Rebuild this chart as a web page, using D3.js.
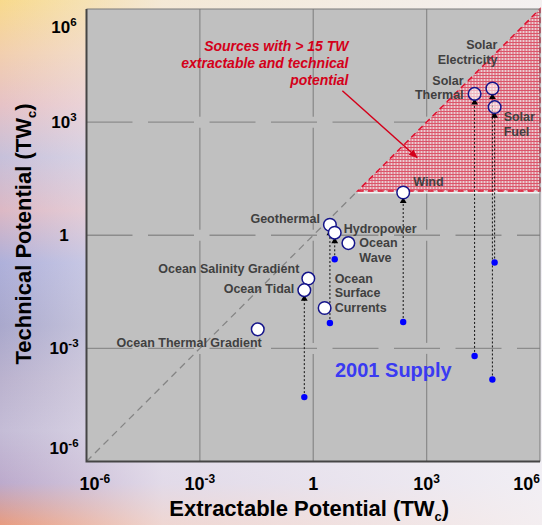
<!doctype html>
<html lang="en">
<head>
<meta charset="utf-8">
<title>Extractable vs Technical Potential</title>
<script src="https://cdnjs.cloudflare.com/ajax/libs/d3/7.8.5/d3.min.js"></script>
<style>
	html, body { margin: 0; padding: 0; overflow: hidden; }
	svg { display: block; font-family: "Liberation Sans", Arial, sans-serif; }
</style>
</head>
<body>
<div id="viz"></div>
<script>

// energy sources, values in TW
var sources = ["Solar Electricity", "Solar Thermal", "Solar Fuel", "Wind", "Geothermal", "Hydropower",
	"Ocean Wave", "Ocean Salinity Gradient", "Ocean Tidal", "Ocean Surface Currents", "Ocean Thermal Gradient"];
var extractable = [5.5e4, 1.86e4, 6.3e4, 240, 2.76, 3.7, 8.5, 0.74, 0.58, 2.0, 0.034];
var technical = [7.8e3, 5.6e3, 2.5e3, 13.6, 1.9, 1.17, 0.62, 0.071, 0.035, 0.0118, 0.0032];
// 2001 supply (null = not shown)
var supply = [1.5e-4, 6.3e-4, 0.19, 5e-3, 4.7e-3, 0.23, null, null, 5.1e-5, null, null];

var tickValues = [1e-6, 1e-3, 1, 1e3, 1e6];
var tickBase = ["10", "10", "1", "10", "10"];
var tickExp = ["-6", "-3", "", "3", "6"];
var threshold = 15; // TW

// label layout: lines, offset from the circle, anchor
var labelLayout = {
	"Solar Electricity": {lines: ["Solar", "Electricity"], dx: 5, dy: -39, anchor: "end"},
	"Solar Thermal": {lines: ["Solar", "Thermal"], dx: -11, dy: -9, anchor: "end"},
	"Solar Fuel": {lines: ["Solar", "Fuel"], dx: 9, dy: 14, anchor: "start"},
	"Wind": {lines: ["Wind"], dx: 10, dy: -7, anchor: "start"},
	"Geothermal": {lines: ["Geothermal"], dx: -10, dy: -2, anchor: "end"},
	"Hydropower": {lines: ["Hydropower"], dx: 9, dy: 0, anchor: "start"},
	"Ocean Wave": {lines: ["Ocean", "Wave"], dx: 11, dy: 4, anchor: "start"},
	"Ocean Salinity Gradient": {lines: ["Ocean Salinity Gradient"], dx: -9, dy: -6, anchor: "end"},
	"Ocean Tidal": {lines: ["Ocean Tidal"], dx: -10, dy: 3, anchor: "end"},
	"Ocean Surface Currents": {lines: ["Ocean", "Surface", "Currents"], dx: 10, dy: -25, anchor: "start"},
	"Ocean Thermal Gradient": {lines: ["Ocean Thermal Gradient"], dx: 4, dy: 18, anchor: "end"}
};

var w = 542,
	h = 525;
var margin = {top: 9, right: 2, bottom: 63.5, left: 86.5};
var width = w - margin.left - margin.right,
	height = h - margin.top - margin.bottom;

var xScale = d3.scaleLog().domain([1e-6, 1e6]).range([0, width]);
var yScale = d3.scaleLog().domain([1e-6, 1e6]).range([height, 0]);

var svg = d3.select("#viz")
	.append("svg")
	.attr("width", w)
	.attr("height", h);

var defs = svg.append("defs");

// page background
var bgGrad = defs.append("linearGradient")
	.attr("id", "bgGrad")
	.attr("x1", 0).attr("y1", 0).attr("x2", 0).attr("y2", 1);
[[0, "#f8da8c"], [0.1, "#f2cfae"], [0.2, "#e6c2c6"], [0.3, "#c6c0da"], [0.4, "#dcb8c4"],
	[0.5, "#aeb0da"], [0.62, "#a9a8cc"], [0.72, "#bab2ce"], [0.82, "#c4bcd6"], [0.92, "#bcaacc"], [1, "#e89c80"]]
	.forEach(function(s) {
		bgGrad.append("stop").attr("offset", s[0]).attr("stop-color", s[1]);
	});

var fadeGrad = defs.append("linearGradient")
	.attr("id", "fadeGrad")
	.attr("x1", 0).attr("y1", 0).attr("x2", 1).attr("y2", 0);
fadeGrad.append("stop").attr("offset", 0).attr("stop-color", "#f2eff5").attr("stop-opacity", 0);
fadeGrad.append("stop").attr("offset", 0.3).attr("stop-color", "#f2eff5").attr("stop-opacity", 0.7);
fadeGrad.append("stop").attr("offset", 1).attr("stop-color", "#f4f2f6").attr("stop-opacity", 0.95);

svg.append("rect").attr("width", w).attr("height", h).attr("fill", "url(#bgGrad)");
svg.append("rect").attr("width", w).attr("height", h).attr("fill", "url(#fadeGrad)");

// hatch used for the > 15 TW region
var hatch = defs.append("pattern")
	.attr("id", "hatch")
	.attr("patternUnits", "userSpaceOnUse")
	.attr("width", 3)
	.attr("height", 3);
hatch.append("rect").attr("width", 3).attr("height", 3).attr("fill", "#f6d2d8");
hatch.append("path").attr("d", "M0,0.5H3M0.5,0V3").attr("stroke", "#e23a55").attr("stroke-width", 1);

var g = svg.append("g")
	.attr("transform", "translate(" + margin.left + "," + margin.top + ")");

g.append("rect")
	.attr("width", width)
	.attr("height", height)
	.attr("fill", "#c0c0c0");

var inner = tickValues.slice(1, -1);

// horizontal grid (dashed)
g.selectAll("line.hgrid")
	.data(inner)
	.enter()
	.append("line")
	.attr("class", "hgrid")
	.attr("x1", 0)
	.attr("x2", width)
	.attr("y1", d => yScale(d))
	.attr("y2", d => yScale(d))
	.attr("stroke", "#8c8c8c")
	.attr("stroke-width", 1.3)
	.attr("stroke-dasharray", "46,15.5");

// vertical grid, broken where it crosses the horizontal lines
var gap = 5.5;
var vsegs = [];
inner.forEach(function(xv) {
	for (var i = 0; i < tickValues.length - 1; i++) {
		vsegs.push({
			x: xv,
			y0: yScale(tickValues[i]) - (i > 0 ? gap : 0),
			y1: yScale(tickValues[i + 1]) + (i + 1 < tickValues.length - 1 ? gap : 0)
		});
	}
});
g.selectAll("line.vgrid")
	.data(vsegs)
	.enter()
	.append("line")
	.attr("class", "vgrid")
	.attr("x1", d => xScale(d.x))
	.attr("x2", d => xScale(d.x))
	.attr("y1", d => d.y0)
	.attr("y2", d => d.y1)
	.attr("stroke", "#8c8c8c")
	.attr("stroke-width", 1.3);

// 1:1 diagonal up to the threshold
g.append("line")
	.attr("x1", xScale(1e-6))
	.attr("y1", yScale(1e-6))
	.attr("x2", xScale(threshold))
	.attr("y2", yScale(threshold))
	.attr("stroke", "#858585")
	.attr("stroke-width", 1.3)
	.attr("stroke-dasharray", "7,5");

// > 15 TW region
var region = [[threshold, threshold], [1e6, threshold], [1e6, 1e6]];
var regionPath = d3.line().x(d => xScale(d[0])).y(d => yScale(d[1]));

g.append("path")
	.attr("d", regionPath(region) + "Z")
	.attr("fill", "url(#hatch)")
	.attr("fill-opacity", 0.8);

g.append("line")
	.attr("x1", xScale(threshold))
	.attr("x2", width)
	.attr("y1", yScale(threshold) + 1.5)
	.attr("y2", yScale(threshold) + 1.5)
	.attr("stroke", "#f4f4f4")
	.attr("stroke-width", 2);

g.append("path")
	.attr("d", regionPath(region) + "Z")
	.attr("fill", "none")
	.attr("stroke", "#e0102e")
	.attr("stroke-width", 1.5)
	.attr("stroke-dasharray", "6,4");

// points
var data = sources.map(function(s, i) {
	return {name: s, x: extractable[i], y: technical[i], supply: supply[i]};
});
var withSupply = data.filter(d => d.supply !== null);
var r = 6.3;

g.selectAll("line.drop")
	.data(withSupply)
	.enter()
	.append("line")
	.attr("class", "drop")
	.attr("x1", d => xScale(d.x))
	.attr("x2", d => xScale(d.x))
	.attr("y1", d => yScale(d.supply))
	.attr("y2", d => yScale(d.y) + r + 2)
	.attr("stroke", "#111")
	.attr("stroke-width", 1)
	.attr("stroke-dasharray", "2,2");

g.selectAll("path.tri")
	.data(withSupply)
	.enter()
	.append("path")
	.attr("class", "tri")
	.attr("d", d3.symbol(d3.symbolTriangle).size(20))
	.attr("transform", d => "translate(" + xScale(d.x) + "," + (yScale(d.y) + r + 2.3) + ")")
	.attr("fill", "#000");

g.selectAll("circle.supply")
	.data(withSupply)
	.enter()
	.append("circle")
	.attr("class", "supply")
	.attr("cx", d => xScale(d.x))
	.attr("cy", d => yScale(d.supply))
	.attr("r", 3.2)
	.attr("fill", "#0000ff");

var inRegion = d => d.x > threshold && d.y > threshold;

g.selectAll("circle.pt")
	.data(data)
	.enter()
	.append("circle")
	.attr("class", "pt")
	.attr("cx", d => xScale(d.x))
	.attr("cy", d => yScale(d.y))
	.attr("r", r)
	.attr("fill", "#fff")
	.attr("fill-opacity", d => inRegion(d) ? 0.55 : 1)
	.attr("stroke", "#14148a")
	.attr("stroke-width", 1.5);

// frame
g.append("path")
	.attr("d", "M0,0H" + width + "V" + height)
	.attr("fill", "none")
	.attr("stroke", "#7a7a7a")
	.attr("stroke-width", 1);
g.append("path")
	.attr("d", "M0,0V" + height + "H" + width)
	.attr("fill", "none")
	.attr("stroke", "#454545")
	.attr("stroke-width", 2);

// point labels
g.selectAll("text.lbl")
	.data(data)
	.enter()
	.append("text")
	.attr("class", "lbl")
	.attr("font-size", 12.5)
	.attr("font-weight", "bold")
	.attr("fill", "#404040")
	.attr("text-anchor", d => labelLayout[d.name].anchor)
	.each(function(d) {
		var L = labelLayout[d.name];
		var cx = xScale(d.x) + L.dx,
			cy = yScale(d.y) + L.dy;
		d3.select(this).selectAll("tspan")
			.data(L.lines)
			.enter()
			.append("tspan")
			.attr("x", cx)
			.attr("y", (t, i) => cy + i * 14.5)
			.text(t => t);
	});

// annotation
var note = ["Sources with > 15 TW", "extractable and technical", "potential"];
g.append("text")
	.attr("font-size", 14)
	.attr("font-weight", "bold")
	.attr("font-style", "italic")
	.attr("fill", "#d4001a")
	.attr("text-anchor", "end")
	.selectAll("tspan")
	.data(note)
	.enter()
	.append("tspan")
	.attr("x", 262)
	.attr("y", (d, i) => 42 + i * 17)
	.text(d => d);

defs.append("marker")
	.attr("id", "redArrow")
	.attr("viewBox", "0 0 10 10")
	.attr("refX", 9)
	.attr("refY", 5)
	.attr("markerWidth", 6)
	.attr("markerHeight", 6)
	.attr("orient", "auto")
	.append("path")
	.attr("d", "M0,1L10,5L0,9Z")
	.attr("fill", "#d4001a");

var arrowFrom = [5.9, 6800],
	arrowTo = [560, 115];
g.append("line")
	.attr("x1", xScale(arrowFrom[0]))
	.attr("y1", yScale(arrowFrom[1]))
	.attr("x2", xScale(arrowTo[0]))
	.attr("y2", yScale(arrowTo[1]))
	.attr("stroke", "#d4001a")
	.attr("stroke-width", 1.5)
	.attr("marker-end", "url(#redArrow)");

g.append("text")
	.attr("x", 248.5)
	.attr("y", 368)
	.attr("font-size", 20)
	.attr("font-weight", "bold")
	.attr("fill", "#3a3af2")
	.text("2001 Supply");

// axis tick labels
var xt = svg.append("g").attr("font-weight", "bold").attr("fill", "#000");
xt.selectAll("text")
	.data(tickValues)
	.enter()
	.append("text")
	.attr("x", (d, i) => margin.left + xScale(d) + (i === 0 ? -7 : 0))
	.attr("y", 490)
	.attr("font-size", 18)
	.attr("text-anchor", (d, i) => i === 0 ? "start" : (i === tickValues.length - 1 ? "end" : "middle"))
	.each(function(d, i) {
		var t = d3.select(this);
		t.append("tspan").text(tickBase[i]);
		if (tickExp[i]) t.append("tspan").attr("font-size", 12).attr("dy", -7).text(tickExp[i]);
	});

var yt = svg.append("g").attr("font-weight", "bold").attr("fill", "#000");
yt.selectAll("text")
	.data(tickValues)
	.enter()
	.append("text")
	.attr("x", 64)
	.attr("y", (d, i) => margin.top + yScale(d) + (i === 0 ? -8 : (i === tickValues.length - 1 ? 24 : 6)))
	.attr("font-size", 17)
	.attr("text-anchor", "middle")
	.each(function(d, i) {
		var t = d3.select(this);
		t.append("tspan").text(tickBase[i]);
		if (tickExp[i]) t.append("tspan").attr("font-size", 11.5).attr("dy", -7).text(tickExp[i]);
	});

// axis titles
var xTitle = svg.append("text")
	.attr("x", margin.left + width / 2 - 4)
	.attr("y", 516)
	.attr("font-size", 22)
	.attr("font-weight", "bold")
	.attr("text-anchor", "middle");
xTitle.append("tspan").text("Extractable Potential (TW");
xTitle.append("tspan").attr("font-size", 13).attr("dy", 5).text("c");
xTitle.append("tspan").attr("dy", -5).text(")");

var yTitle = svg.append("text")
	.attr("transform", "translate(31," + 234 + ") rotate(-90)")
	.attr("font-size", 22)
	.attr("font-weight", "bold")
	.attr("text-anchor", "middle");
yTitle.append("tspan").text("Technical Potential (TW");
yTitle.append("tspan").attr("font-size", 13).attr("dy", 5).text("c");
yTitle.append("tspan").attr("dy", -5).text(")");

</script>
</body>
</html>
